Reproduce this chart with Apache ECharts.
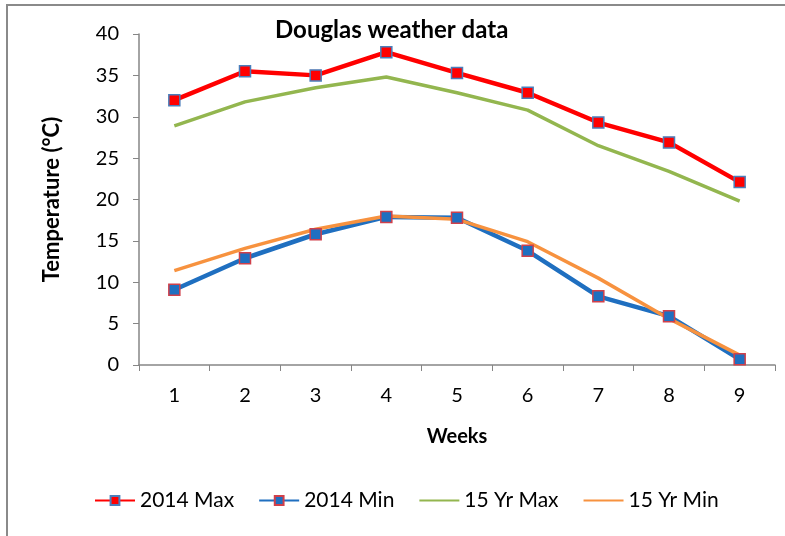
<!DOCTYPE html>
<html>
<head>
<meta charset="utf-8">
<script src="https://cdn.jsdelivr.net/npm/echarts@6/dist/echarts.min.js"></script>
<style>html,body{margin:0;padding:0;background:#fff}#c{width:785px;height:536px}</style>
</head>
<body>
<div id="c"></div>
<script>
const weeks = ['1','2','3','4','5','6','7','8','9'];
const max2014 = [32.0, 35.5, 35.0, 37.8, 35.3, 32.9, 29.3, 26.9, 22.1];
const min2014 = [9.1, 12.9, 15.8, 17.9, 17.8, 13.8, 8.3, 5.9, 0.7];
const max15yr = [28.9, 31.8, 33.5, 34.8, 32.9, 30.8, 26.5, 23.4, 19.8];
const min15yr = [11.4, 14.1, 16.4, 18.0, 17.6, 14.9, 10.5, 5.6, 1.2];
const yTicks = [0, 5, 10, 15, 20, 25, 30, 35, 40];

const font = 'Lato, "Open Sans", sans-serif';
const chart = echarts.init(document.getElementById('c'));
chart.setOption({
  animation: false,
  backgroundColor: '#ffffff',
  title: {
    text: 'Douglas weather data',
    left: 270, top: 13,
    textStyle: { fontFamily: font, fontSize: 24, fontWeight: 'bold', color: '#000' }
  },
  grid: { left: 139, right: 10, top: 34, bottom: 171, containLabel: false },
  legend: {
    bottom: 20, left: 89,
    itemWidth: 40, itemHeight: 11, itemGap: 24,
    textStyle: { fontFamily: font, fontSize: 21, color: '#000' },
    data: [
      { name: '2014 Max' },
      { name: '2014 Min' },
      { name: '15 Yr Max', itemStyle: { opacity: 0 } },
      { name: '15 Yr Min', itemStyle: { opacity: 0 } }
    ]
  },
  graphic: [{
    type: 'polyline',
    shape: { points: [[7, 536], [7, 5], [785, 5]] },
    style: { stroke: '#8a8a8a', lineWidth: 2, fill: null },
    silent: true
  }],
  xAxis: {
    type: 'category', data: weeks, boundaryGap: true,
    name: 'Weeks', nameLocation: 'middle', nameGap: 62,
    nameTextStyle: { fontFamily: font, fontSize: 20, fontWeight: 'bold', color: '#000' },
    axisLine: { lineStyle: { color: '#868686', width: 1.5 } },
    axisTick: { show: true, length: 6, lineStyle: { color: '#868686' } },
    axisLabel: { fontFamily: font, fontSize: 20, color: '#000', margin: 21 },
    splitLine: { show: false }
  },
  yAxis: {
    type: 'value', min: 0, max: 40, interval: 5,
    name: 'Temperature (°C)', nameLocation: 'middle', nameGap: 76, nameRotate: 90,
    nameTextStyle: { fontFamily: font, fontSize: 22, fontWeight: 'bold', color: '#000' },
    axisLine: { show: true, lineStyle: { color: '#868686', width: 1.5 } },
    axisTick: { show: true, length: 6, lineStyle: { color: '#868686' } },
    axisLabel: { fontFamily: font, fontSize: 20, color: '#000', margin: 20,
      formatter: v => yTicks.includes(v) ? String(v) : '' },
    splitLine: { show: false }
  },
  series: [
    { name: '2014 Max', type: 'line', data: max2014, symbol: 'rect', symbolSize: 11,
      lineStyle: { color: '#ff0000', width: 4.5 },
      itemStyle: { color: '#ff0000', borderColor: '#4a7ebb', borderWidth: 1.5 } },
    { name: '2014 Min', type: 'line', data: min2014, symbol: 'rect', symbolSize: 11,
      lineStyle: { color: '#1f6fc0', width: 4.5 },
      itemStyle: { color: '#1f6fc0', borderColor: '#d0404a', borderWidth: 1.5 } },
    { name: '15 Yr Max', type: 'line', data: max15yr, symbol: 'none', showSymbol: false,
      lineStyle: { color: '#93b64f', width: 3.5 }, itemStyle: { color: '#93b64f' } },
    { name: '15 Yr Min', type: 'line', data: min15yr, symbol: 'none', showSymbol: false,
      lineStyle: { color: '#f7923f', width: 3.5 }, itemStyle: { color: '#f7923f' } }
  ]
});
</script>
</body>
</html>
